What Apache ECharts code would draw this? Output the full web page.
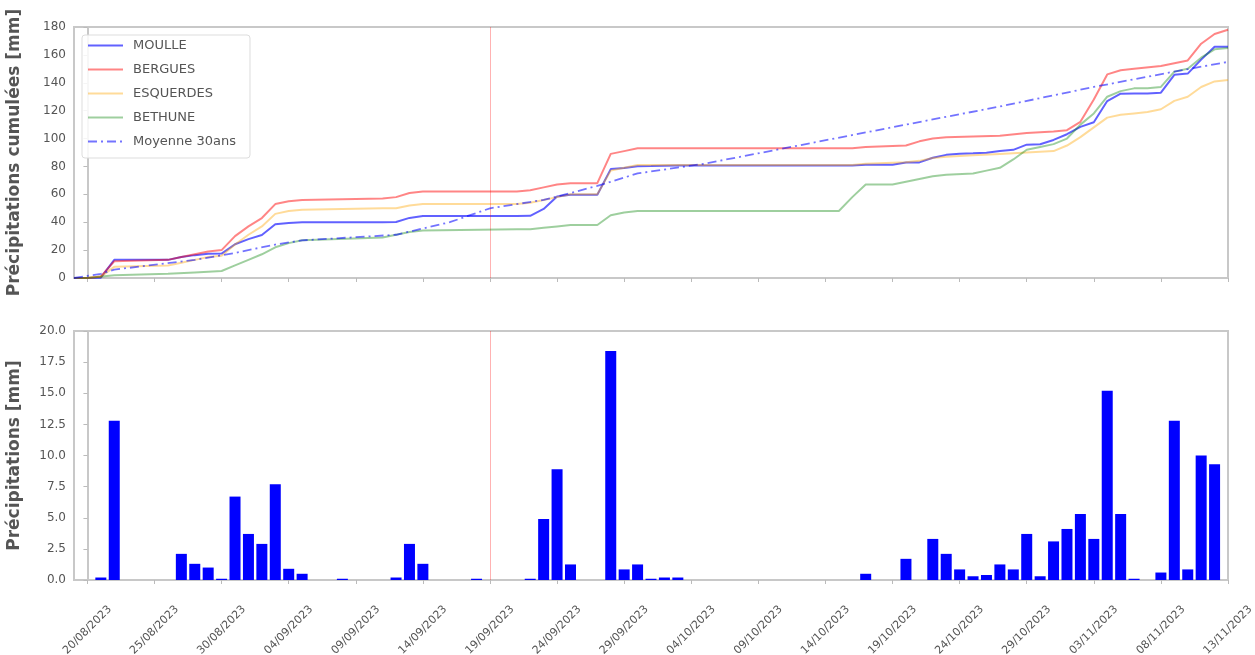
<!DOCTYPE html>
<html>
<head>
<meta charset="utf-8">
<script src="https://cdn.jsdelivr.net/npm/echarts/dist/echarts.min.js"></script>
<style>html,body{margin:0;padding:0;background:#fff}#c{width:1255px;height:655px}</style>
</head>
<body>
<div id="c"></div>
<script>
// ---- data (x = day offset from the first labelled date) ----
const stationNames = ['MOULLE', 'BERGUES', 'ESQUERDES', 'BETHUNE', 'Moyenne 30ans'];
const tickLabels = ['20/08/2023','25/08/2023','30/08/2023','04/09/2023','09/09/2023','14/09/2023',
  '19/09/2023','24/09/2023','29/09/2023','04/10/2023','09/10/2023','14/10/2023','19/10/2023',
  '24/10/2023','29/10/2023','03/11/2023','08/11/2023','13/11/2023'];
const tickDays = [0, 5, 10, 15, 20, 25, 30, 35, 40, 45, 50, 55, 60, 65, 70, 75, 80, 85];
const redLineDay = 30;

const rainDays   = [1, 2, 7, 8, 9, 10, 11, 12, 13, 14, 15, 16, 19, 23, 24, 25, 29, 33, 34, 35, 36, 39, 40, 41, 42, 43, 44,
  58, 61, 63, 64, 65, 66, 67, 68, 69, 70, 71, 72, 73, 74, 75, 76, 77, 78, 80, 81, 82, 83, 84];
const rainValues = [0.2, 12.8, 2.1, 1.3, 1.0, 0.1, 6.7, 3.7, 2.9, 7.7, 0.9, 0.5, 0.1, 0.2, 2.9, 1.3, 0.1, 0.1, 4.9, 8.9, 1.25, 18.4, 0.85, 1.25, 0.1, 0.2, 0.2,
  0.5, 1.7, 3.3, 2.1, 0.85, 0.3, 0.4, 1.25, 0.85, 3.7, 0.3, 3.1, 4.1, 5.3, 3.3, 15.2, 5.3, 0.1, 0.6, 12.8, 0.85, 10.0, 9.3];

const cumStation1 = [[-1,0],[0,0],[1,0.2],[2,13.0],[6,13.0],[7,15.1],[8,16.4],[9,17.4],[10,17.5],[11,24.2],[12,27.9],[13,30.8],
  [14,38.5],[15,39.4],[16,39.9],[18,39.9],[19,40.0],[22,40.0],[23,40.2],[24,43.1],[25,44.4],[28,44.4],[29,44.5],[32,44.5],
  [33,44.6],[34,49.5],[35,58.4],[36,59.7],[38,59.7],[39,78.1],[40,78.9],[41,80.2],[42,80.3],[43,80.5],[44,80.7],[57,80.7],
  [58,81.2],[60,81.2],[61,82.9],[62,82.9],[63,86.2],[64,88.3],[65,89.1],[66,89.4],[67,89.8],[68,91.1],[69,91.9],[70,95.6],
  [71,95.9],[72,99.0],[73,103.1],[74,108.4],[75,111.7],[76,126.9],[77,132.2],[78,132.3],[79,132.3],[80,132.9],[81,145.7],
  [82,146.6],[83,156.6],[84,165.9],[85,165.9]];
const cumStation2 = [[-1,0],[0,0],[1,1],[2,12],[6,13],[7,15],[8,17],[9,19],[10,20],[11,30],[12,37],[13,43],[14,53],[15,55],[16,56],
  [22,57],[23,58],[24,61],[25,62],[32,62],[33,63],[34,65],[35,67],[36,68],[38,68],[39,89],[40,91],[41,93],[57,93],[58,94],
  [61,95],[62,98],[63,100],[64,101],[68,102],[70,104],[72,105],[73,106],[74,112],[75,128],[76,146],[77,149],[78,150],[80,152],
  [81,154],[82,156],[83,168],[84,175],[85,178]];
const cumStation3 = [[-1,0],[0,0],[1,1],[2,8],[6,9],[7,11],[8,13],[9,15],[10,16],[11,24],[12,31],[13,37],[14,46],[15,48],[16,49],
  [22,50],[23,50],[24,52],[25,53],[32,53],[33,54],[34,56],[35,58],[36,60],[38,60],[39,77],[40,79],[41,81],[57,81],[58,82],
  [61,83],[62,84],[63,86],[64,87],[66,88],[68,89],[70,90],[72,91],[73,95],[74,101],[75,108],[76,115],[77,117],[78,118],
  [79,119],[80,121],[81,127],[82,130],[83,137],[84,141],[85,142]];
const cumStation4 = [[-1,0],[0,0],[2,2],[6,3],[8,4],[10,5],[11,9],[12,13],[13,17],[14,22],[15,25],[16,27],[22,29],[23,31],[24,33],
  [25,34],[32,35],[33,35],[34,36],[35,37],[36,38],[38,38],[39,45],[40,47],[41,48],[56,48],[57,58],[58,67],[60,67],[61,69],
  [62,71],[63,73],[64,74],[66,75],[67,77],[68,79],[69,85],[70,92],[71,94],[72,96],[73,100],[74,110],[75,118],[76,130],
  [77,134],[78,136],[79,136],[80,137],[81,148],[82,150],[83,158],[84,164],[85,165]];
const cumAverage = [[-1,0],[1,3],[2,6],[8,13],[11,18],[14,24],[16,27],[23,31],[27,40],[30,50],[34,56],[38,66],[41,75],[46,82],
  [53,95],[61,110],[68,123],[75,137],[81,148],[85,155]];

// ---- chart ----
const FONT = 'DejaVu Sans';
const axisGray = '#c8c8c8';
const textGray = '#555';

function xAxisDef(gridIndex, showLabels) {
  return {
    type: 'value', gridIndex: gridIndex, min: -1, max: 85,
    axisLine: {show: true, onZero: false, lineStyle: {color: axisGray, width: 2}},
    axisTick: {show: true, length: 4, customValues: tickDays, lineStyle: {color: '#bbb'}},
    splitLine: {show: false},
    axisLabel: {
      show: showLabels, customValues: tickDays,
      rotate: 45, align: 'center', verticalAlign: 'middle', margin: 50,
      fontSize: 11, color: textGray, fontFamily: FONT,
      formatter: function (v) {
        const i = tickDays.indexOf(Math.round(v));
        return i < 0 ? '' : tickLabels[i];
      }
    }
  };
}
function yAxisDef(gridIndex, max, interval, name, decimals) {
  return {
    type: 'value', gridIndex: gridIndex, min: 0, max: max, interval: interval,
    name: name, nameLocation: 'middle', nameRotate: 90, nameGap: 51,
    nameTextStyle: {fontSize: 17, fontWeight: 'bold', color: textGray, fontFamily: FONT},
    axisLine: {show: true, lineStyle: {color: axisGray, width: 2}},
    axisTick: {show: true, length: 4, lineStyle: {color: '#bbb'}},
    splitLine: {show: false},
    axisLabel: {fontSize: 12, color: textGray, fontFamily: FONT, margin: 8,
      formatter: function (v) { return v.toFixed(decimals); }}
  };
}
const vline = {
  silent: true, symbol: 'none', label: {show: false},
  lineStyle: {color: 'rgba(255,0,0,0.3)', width: 1, type: 'solid'},
  data: [{xAxis: redLineDay}]
};
function lineSeries(name, data, color, extra) {
  return Object.assign({
    name: name, type: 'line', xAxisIndex: 0, yAxisIndex: 0, data: data,
    symbol: 'none', smooth: false, animation: false,
    lineStyle: {color: color, width: 2}, itemStyle: {color: color}
  }, extra || {});
}

const option = {
  animation: false,
  backgroundColor: '#fff',
  grid: [
    {left: 74, right: 27, top: 27, height: 251, show: true, borderColor: axisGray, borderWidth: 2,
      backgroundColor: '#fff', containLabel: false, outerBoundsMode: 'none'},
    {left: 74, right: 27, top: 331, height: 249, show: true, borderColor: axisGray, borderWidth: 2,
      backgroundColor: '#fff', containLabel: false, outerBoundsMode: 'none'}
  ],
  xAxis: [xAxisDef(0, false), xAxisDef(1, true)],
  yAxis: [
    yAxisDef(0, 180, 20, 'Précipitations cumulées [mm]', 0),
    yAxisDef(1, 20, 2.5, 'Précipitations [mm]', 1)
  ],
  legend: {
    data: stationNames, orient: 'vertical', left: 82, top: 35,
    itemWidth: 35, itemHeight: 12, itemGap: 11, padding: [4, 14, 10, 5],
    itemStyle: {opacity: 0, borderWidth: 0},
    backgroundColor: 'rgba(255,255,255,0.85)', borderColor: '#dddddd', borderWidth: 1, borderRadius: 3,
    textStyle: {fontSize: 13, color: '#555', fontFamily: FONT, padding: [0, 0, 0, 5]}
  },
  series: [
    lineSeries(stationNames[0], cumStation1, 'rgba(0,0,255,0.62)', {markLine: vline, z: 2}),
    lineSeries(stationNames[1], cumStation2, 'rgba(255,0,0,0.48)', {z: 3}),
    lineSeries(stationNames[2], cumStation3, 'rgba(255,165,0,0.4)', {z: 4}),
    lineSeries(stationNames[3], cumStation4, 'rgba(0,128,0,0.38)', {z: 5}),
    lineSeries(stationNames[4], cumAverage, 'rgba(0,0,255,0.55)', {
      z: 6, lineStyle: {color: 'rgba(0,0,255,0.55)', width: 1.8, type: [9, 4, 2, 4]}
    }),
    {
      name: 'Précipitations', type: 'bar', xAxisIndex: 1, yAxisIndex: 1,
      data: rainDays.map(function (d, i) { return [d, rainValues[i]]; }),
      barWidth: 11, itemStyle: {color: '#0000ff'}, animation: false,
      markLine: vline
    }
  ]
};
const chart = echarts.init(document.getElementById('c'), null, {renderer: 'canvas'});
chart.setOption(option);
</script>
</body>
</html>
